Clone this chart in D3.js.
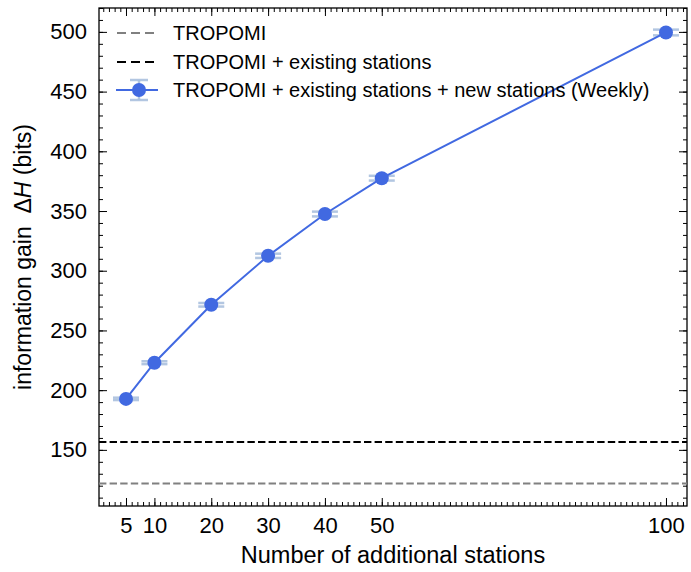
<!DOCTYPE html>
<html>
<head>
<meta charset="utf-8">
<script src="https://cdn.jsdelivr.net/npm/d3@7"></script>
<style>
  body { margin: 0; background: #fff; }
  text { font-family: "Liberation Sans", Arial, sans-serif; }
</style>
</head>
<body>
<svg id="chart"></svg>
<script>
// stations added vs information gain
var stations = [5, 10, 20, 30, 40, 50, 100];
var gain = [192.7, 223, 271.5, 312.5, 347.5, 377.5, 499.5];
var gainErr = [1, 1.2, 1.5, 1.8, 2, 2, 2.4];
var tropomi = 121.8;
var tropomiExisting = 156.5;
var xTicks = [5, 10, 20, 30, 40, 50, 100];
var yTicks = [150, 200, 250, 300, 350, 400, 450, 500];
var legendLabels = ["TROPOMI", "TROPOMI + existing stations", "TROPOMI + existing stations + new stations (Weekly)"];

const margin = { top: 8, right: 4, bottom: 66, left: 99 };
const width = 691 - margin.left - margin.right;
const height = 572 - margin.top - margin.bottom;

const svg = d3.select('#chart')
  .attr('width', 691)
  .attr('height', 572)
  .append('g')
  .attr('transform', `translate(${margin.left}, ${margin.top})`);

const xScale = d3.scaleLinear().domain([0.25, 103.7]).range([0, width]);
const yScale = d3.scaleLinear().domain([103, 520]).range([height, 0]);

// inward ticks on all four sides
function tickAxis(axis, sel) {
  sel.call(axis);
  sel.select('.domain').remove();
  sel.selectAll('line').attr('stroke', '#000').attr('stroke-width', 1);
}
const xMinor = d3.range(1, 104, 1);
const yMinor = d3.range(110, 521, 10);

svg.append('g').attr('transform', `translate(0, ${height})`)
  .call(g => tickAxis(d3.axisBottom(xScale).tickValues(xMinor).tickSize(-4).tickFormat(''), g));
svg.append('g')
  .call(g => tickAxis(d3.axisTop(xScale).tickValues(xMinor).tickSize(-4).tickFormat(''), g));
svg.append('g')
  .call(g => tickAxis(d3.axisLeft(yScale).tickValues(yMinor).tickSize(-4).tickFormat(''), g));
svg.append('g').attr('transform', `translate(${width}, 0)`)
  .call(g => tickAxis(d3.axisRight(yScale).tickValues(yMinor).tickSize(-4).tickFormat(''), g));

svg.append('g').attr('transform', `translate(0, ${height})`)
  .call(g => tickAxis(d3.axisBottom(xScale).tickValues(xTicks).tickSize(-8).tickPadding(11), g));
svg.append('g')
  .call(g => tickAxis(d3.axisTop(xScale).tickValues(xTicks).tickSize(-8).tickFormat(''), g));
svg.append('g')
  .call(g => tickAxis(d3.axisLeft(yScale).tickValues(yTicks).tickSize(-8).tickPadding(12), g));
svg.append('g').attr('transform', `translate(${width}, 0)`)
  .call(g => tickAxis(d3.axisRight(yScale).tickValues(yTicks).tickSize(-8).tickFormat(''), g));

svg.selectAll('.tick text').attr('font-size', 22).attr('fill', '#000')
  .style('font-family', '"Liberation Sans", Arial, sans-serif');

// frame
svg.append('rect').attr('width', width).attr('height', height)
  .attr('fill', 'none').attr('stroke', '#000').attr('stroke-width', 1.3);

// horizontal references
svg.append('line')
  .attr('x1', 0).attr('x2', width)
  .attr('y1', yScale(tropomi)).attr('y2', yScale(tropomi))
  .attr('stroke', '#808080').attr('stroke-width', 2).attr('stroke-dasharray', '7.4,3.2');
svg.append('line')
  .attr('x1', 0).attr('x2', width)
  .attr('y1', yScale(tropomiExisting)).attr('y2', yScale(tropomiExisting))
  .attr('stroke', '#000').attr('stroke-width', 2).attr('stroke-dasharray', '7.4,3.2');

// error bars
const errColor = 'rgba(170,192,222,0.9)';
const cap = 13;
stations.forEach((s, i) => {
  const x = xScale(s);
  [gain[i] - gainErr[i], gain[i] + gainErr[i]].forEach(v => {
    svg.append('line')
      .attr('x1', x - cap).attr('x2', x + cap)
      .attr('y1', yScale(v)).attr('y2', yScale(v))
      .attr('stroke', errColor).attr('stroke-width', 2.5);
  });
  svg.append('line')
    .attr('x1', x).attr('x2', x)
    .attr('y1', yScale(gain[i] - gainErr[i])).attr('y2', yScale(gain[i] + gainErr[i]))
    .attr('stroke', errColor).attr('stroke-width', 2.5);
});

const line = d3.line().x((d, i) => xScale(stations[i])).y(d => yScale(d));
svg.append('path').datum(gain)
  .attr('d', line).attr('fill', 'none')
  .attr('stroke', '#4169e1').attr('stroke-width', 2);

svg.selectAll('circle.pt').data(gain).enter().append('circle')
  .attr('class', 'pt')
  .attr('cx', (d, i) => xScale(stations[i]))
  .attr('cy', d => yScale(d))
  .attr('r', 7)
  .attr('fill', '#4169e1');

// legend
const legend = svg.append('g');
const rowY = [25, 54, 82];
const lx0 = 18, lx1 = 56;
legend.append('line').attr('x1', lx0).attr('x2', lx1).attr('y1', rowY[0]).attr('y2', rowY[0])
  .attr('stroke', '#808080').attr('stroke-width', 2).attr('stroke-dasharray', '9,5');
legend.append('line').attr('x1', lx0).attr('x2', lx1).attr('y1', rowY[1]).attr('y2', rowY[1])
  .attr('stroke', '#000').attr('stroke-width', 2).attr('stroke-dasharray', '9,5');
const mx = 40;
[rowY[2] - 10, rowY[2] + 10].forEach(y => {
  legend.append('line').attr('x1', mx - 9).attr('x2', mx + 9).attr('y1', y).attr('y2', y)
    .attr('stroke', errColor).attr('stroke-width', 2.5);
});
legend.append('line').attr('x1', mx).attr('x2', mx).attr('y1', rowY[2] - 10).attr('y2', rowY[2] + 10)
  .attr('stroke', errColor).attr('stroke-width', 2.5);
legend.append('line').attr('x1', 17).attr('x2', 59).attr('y1', rowY[2]).attr('y2', rowY[2])
  .attr('stroke', '#4169e1').attr('stroke-width', 2);
legend.append('circle').attr('cx', mx).attr('cy', rowY[2]).attr('r', 7).attr('fill', '#4169e1');

legendLabels.forEach((t, i) => {
  legend.append('text').attr('x', 74).attr('y', rowY[i]).attr('dy', '0.36em')
    .attr('font-size', 20).attr('fill', '#000').text(t);
});

// axis labels
svg.append('text')
  .attr('x', width / 2).attr('y', height + 57)
  .attr('text-anchor', 'middle').attr('font-size', 23.5).attr('fill', '#000')
  .text('Number of additional stations');

const yl = svg.append('text')
  .attr('transform', `translate(${-68}, ${height / 2}) rotate(-90)`)
  .attr('text-anchor', 'middle').attr('font-size', 23).attr('fill', '#000')
  .attr('xml:space', 'preserve').style('white-space', 'pre');
yl.append('tspan').text('information gain  Δ');
yl.append('tspan').attr('font-style', 'italic').text('H');
yl.append('tspan').text(' (bits)');
</script>
</body>
</html>
